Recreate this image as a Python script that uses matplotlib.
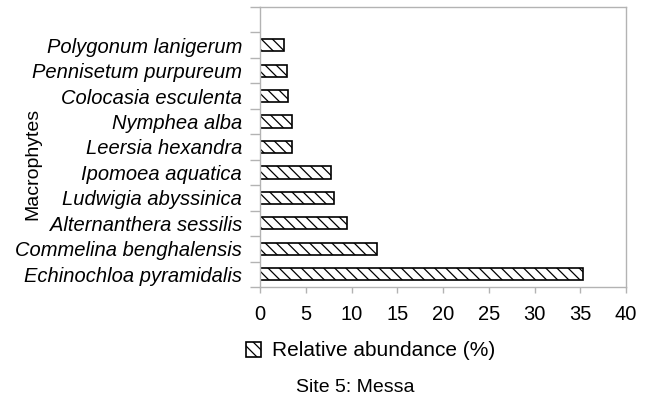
import matplotlib
matplotlib.use("Agg")
import matplotlib.pyplot as plt
from matplotlib.patches import Patch
import numpy as np

species = [
    "Echinochloa pyramidalis",
    "Commelina benghalensis",
    "Alternanthera sessilis",
    "Ludwigia abyssinica",
    "Ipomoea aquatica",
    "Leersia hexandra",
    "Nymphea alba",
    "Colocasia esculenta",
    "Pennisetum purpureum",
    "Polygonum lanigerum",
]
abundance = [35.3, 12.8, 9.5, 8.1, 7.8, 3.5, 3.5, 3.1, 2.9, 2.6]
x_ticks = [0, 5, 10, 15, 20, 25, 30, 35, 40]

plt.rcParams["font.family"] = ["Liberation Sans", "DejaVu Sans"]
plt.rcParams["hatch.linewidth"] = 0.9

W, H = 654, 401
fig = plt.figure(figsize=(W / 100, H / 100), dpi=100)
ax = fig.add_axes([260 / W, 1 - 287 / H, (626 - 260) / W, (287 - 7) / H])

grey = "#b3b3b3"
pos = np.arange(len(species))
ax.barh(pos, abundance, height=0.48, color="white", edgecolor="black",
        linewidth=1.2, hatch="\\\\\\")

ax.set_xlim(0, 40)
ax.set_ylim(-0.5, len(species) + 0.5)
ax.set_xticks(x_ticks)
ax.set_xticklabels([str(t) for t in x_ticks], fontsize=14.5)
ax.set_yticks(pos)
ax.set_yticklabels(species, fontsize=14.5, style="italic")
ax.set_yticks(np.arange(-0.5, len(species) + 0.6, 1), minor=True)

ax.tick_params(axis="y", which="major", length=0, pad=13)
ax.tick_params(axis="y", which="minor", length=7.2, color=grey, width=1)
ax.tick_params(axis="x", which="major", length=4.5, color=grey, width=1, pad=8.5)
for s in ax.spines.values():
    s.set_color(grey)
    s.set_linewidth(1)

handle = Patch(facecolor="white", edgecolor="black", hatch="\\\\\\", linewidth=1.2)
fig.legend([handle], ["Relative abundance (%)"], loc="center left",
           bbox_to_anchor=(246 / W, 1 - 351 / H), frameon=False,
           borderpad=0, borderaxespad=0, handlelength=0.7, handleheight=0.7,
           handletextpad=0.55, fontsize=15)

fig.text(355 / W, 1 - 387 / H, "Site 5: Messa", ha="center", va="center", fontsize=14)
fig.text(33 / W, 1 - 164 / H, "Macrophytes", ha="center", va="center",
         rotation=90, fontsize=14)

fig.savefig("out.png", dpi=100)
